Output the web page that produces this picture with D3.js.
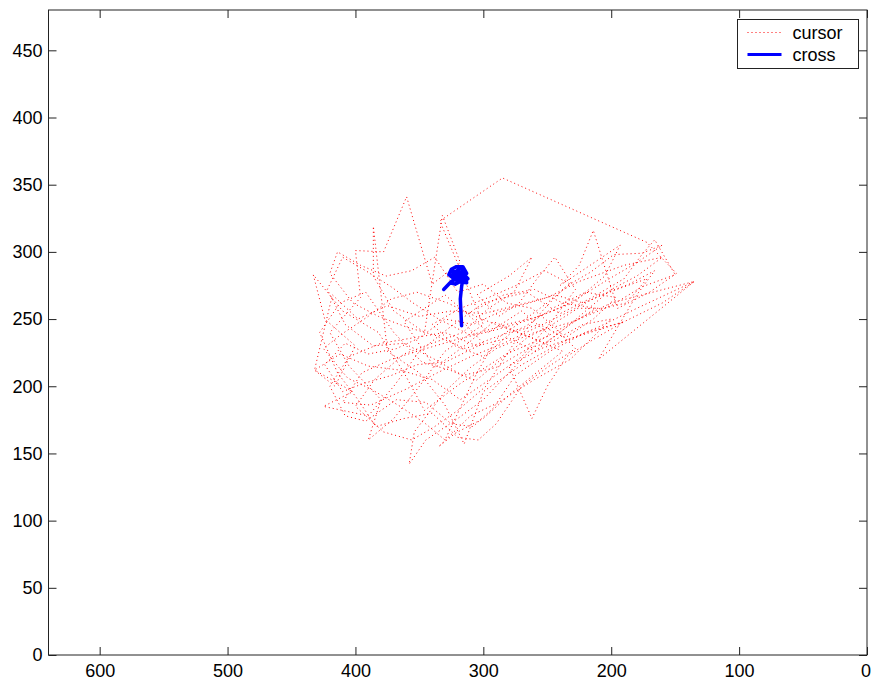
<!DOCTYPE html>
<html>
<head>
<meta charset="utf-8">
<script src="https://cdn.jsdelivr.net/npm/d3@7"></script>
<style>
  body { margin: 0; background: #fff; }
  svg { display: block; font-family: "Liberation Sans", Arial, sans-serif; }
</style>
</head>
<body>
<script>
// axis ticks
const xTicks = [600, 500, 400, 300, 200, 100, 0]
const yTicks = [0, 50, 100, 150, 200, 250, 300, 350, 400, 450]
const legendLabels = ['cursor', 'cross']

// cursor trajectory (x, y)
const cursor = [
  [318,250],[300,232],[338,214],[362,248],[330,268],[296,240],[270,256],[248,238],[282,224],[318,202],
  [346,182],[362,210],[382,240],[410,256],[433,283],[424,250],[400,230],[416,200],[432,212],[402,196],
  [425,185],[390,178],[370,200],[350,226],[326,244],[300,262],[266,270],[240,254],[215,266],[190,280],
  [176,298],[166,309],[150,283],[176,274],[200,260],[230,248],[260,240],[290,228],[310,214],[330,196],
  [354,166],[358,142],[345,160],[320,176],[300,190],[280,210],[256,234],[226,250],[200,262],[135,278],
  [180,258],[210,244],[240,232],[270,216],[300,196],[315,157],[330,186],[350,210],[375,226],[386,319],
  [386,282],[370,256],[346,240],[332,327],[318,292],[340,276],[360,341],[378,300],[400,301],[396,266],
  [420,240],[405,215],[380,190],[390,160],[370,176],[350,200],[330,226],[300,246],[334,323],[285,355],
  [172,307],[149,284],[170,270],[195,258],[214,316],[225,290],[240,275],[193,305],[205,282],[230,262],
  [262,250],[290,242],[320,235],[345,228],[372,220],[395,210],[410,188],[388,186],[360,198],[336,210],
  [310,222],[284,232],[258,244],[232,256],[208,268],[186,276],[166,286],[180,268],[210,220],[135,278],
  [160,262],[190,248],[230,236],[255,228],[280,215],[262,176],[250,200],[235,222],[212,236],[190,248],
  [220,240],[248,226],[275,208],[292,184],[308,170],[325,172],[345,188],[368,190],[392,174],[408,178],
  [420,200],[405,222],[380,232],[355,236],[330,240],[305,230],[280,236],[260,226],[240,240],[220,256],
  [200,272],[180,282],[160,296],[190,290],[225,278],[250,266],[275,260],[300,254],[325,256],[350,252],
  [375,260],[398,250],[418,268],[432,212],[412,224],[390,215],[365,212],[340,205],[318,190],[295,205],
  [270,222],[245,250],[228,272],[244,296],[258,280],[272,262],[288,252],[305,268],[280,282],[262,296],
  [276,270],[296,258],[316,240],[340,232],[362,224],[385,205],[400,185],[378,166],[356,160],[338,170],
  [320,182],[298,200],[276,232],[252,258],[236,274],[216,285],[198,298],[176,299],[160,305],[180,292],
  [205,278],[232,262],[256,252],[282,246],[310,238],[335,250],[355,262],[372,274],[392,286],[410,296],
  [422,272],[408,246],[386,230],[362,232],[338,220],[316,208],[290,214],[265,228],[245,234],[222,246],
  [200,250],[232,220],[260,205],[288,188],[310,178],[335,155],[322,165],[300,176],[278,195],[256,212],
  [238,226],[262,236],[285,244],[306,252],[328,262],[352,270],[372,265],[390,252],[412,238],[425,228],
  [406,206],[388,198],[365,185],[345,172],[330,160],[318,184],[305,210],[290,235],[270,248],[250,262],
  [232,276],[252,286],[272,276],[296,266],[318,258],[340,246],[322,230],[300,222],[278,240],[256,246],
  [236,236],[214,250],[196,266],[220,270],[246,258],[268,244],[292,236],[314,228],[338,238],[360,244],
  [382,252],[402,262],[420,284],[414,300],[396,290],[376,282],[356,286],[338,296],[320,270],[300,276],
  [282,262],[262,258],[244,244],[228,228],[250,214],[270,200],[290,172],[304,160],[320,162],[340,180],
  [362,176],[384,170],[398,190],[414,210],[428,240],[412,262],[392,270],[370,240],[348,218],[326,212],
  [306,204],[286,220],[266,236],[246,246],[226,258],[206,258],[188,262],[172,280],[196,272],[222,262],
  [244,268],[264,262],[286,256],[308,246],[330,250],[350,236],[368,228],[390,224],[408,232],[424,216],
  [410,196],[394,202],[372,208],[352,216],[332,218],[312,232],[292,248],[272,240],[252,232],[232,246],
  [212,258],[238,262],[260,272],[284,268],[304,258]
]

// cross trajectory (x, y)
const cross = [
  [317,245],[317.5,255],[318,265],[317,274],[316,280],[320,283],[324,286],[322,279],[318,285],[314,282],
  [313,277],[318,278],[322,276],[326,277],[331,272],[325,278],[320,281],[315,286],[318,288],[322,285],
  [325,282],[319,279],[313,284],[316,289],[321,289],[325,287],[327,283],[323,280],[316,277],[312,280],
  [315,283],[320,286],[324,283],[319,281]
]

const width = 871
const height = 681
const plot = {left: 48.5, right: 867, top: 10, bottom: 655}

const svg = d3.select('body').append('svg')
  .attr('width', width)
  .attr('height', height)

const x = d3.scaleLinear().domain([640, 0]).range([plot.left, plot.right])
const y = d3.scaleLinear().domain([0, 480]).range([plot.bottom, plot.top])

const line = d3.line().x(d => x(d[0])).y(d => y(d[1]))

// series
svg.append('path')
  .datum(cursor)
  .attr('fill', 'none')
  .attr('stroke', '#ff0000')
  .attr('stroke-width', 1)
  .attr('stroke-dasharray', '1 3')
  .attr('d', line)

svg.append('path')
  .datum(cross)
  .attr('fill', 'none')
  .attr('stroke', '#0000ff')
  .attr('stroke-width', 3.5)
  .attr('stroke-linejoin', 'round')
  .attr('stroke-linecap', 'round')
  .attr('d', line)

// axes, ticks pointing inward on all four sides
const styleAxis = g => {
  g.select('.domain').remove()
  g.selectAll('line').attr('stroke', '#222')
  g.selectAll('text').attr('fill', '#000').style('font-size', '18px')
}

svg.append('g')
  .attr('transform', `translate(0,${plot.bottom})`)
  .call(d3.axisBottom(x).tickValues(xTicks).tickSize(-8).tickPadding(9))
  .call(styleAxis)
  .call(g => g.selectAll('text').filter(d => d === 0).attr('dx', -1.5))

svg.append('g')
  .attr('transform', `translate(0,${plot.top})`)
  .call(d3.axisTop(x).tickValues(xTicks).tickSize(-8).tickFormat(''))
  .call(styleAxis)

svg.append('g')
  .attr('transform', `translate(${plot.left},0)`)
  .call(d3.axisLeft(y).tickValues(yTicks).tickSize(-8).tickPadding(6))
  .call(styleAxis)

svg.append('g')
  .attr('transform', `translate(${plot.right},0)`)
  .call(d3.axisRight(y).tickValues(yTicks).tickSize(-8).tickFormat(''))
  .call(styleAxis)

svg.append('rect')
  .attr('x', plot.left)
  .attr('y', plot.top)
  .attr('width', plot.right - plot.left)
  .attr('height', plot.bottom - plot.top)
  .attr('fill', 'none')
  .attr('stroke', '#222')

// legend
const legend = svg.append('g').attr('transform', 'translate(737.5,19.5)')
legend.append('rect')
  .attr('width', 121)
  .attr('height', 49)
  .attr('fill', '#fff')
  .attr('stroke', '#222')

const legendItems = legend.selectAll('g.item')
  .data(legendLabels)
  .join('g')
  .attr('class', 'item')
  .attr('transform', (d, i) => `translate(0,${13 + i * 22})`)

legendItems.append('line')
  .attr('x1', 10)
  .attr('x2', 44)
  .attr('stroke', (d, i) => i === 0 ? '#ff0000' : '#0000ff')
  .attr('stroke-width', (d, i) => i === 0 ? 1 : 3)
  .attr('stroke-dasharray', (d, i) => i === 0 ? '1 3' : null)

legendItems.append('text')
  .attr('x', 55)
  .attr('dy', '0.35em')
  .style('font-size', '18px')
  .text(d => d)
</script>
</body>
</html>
